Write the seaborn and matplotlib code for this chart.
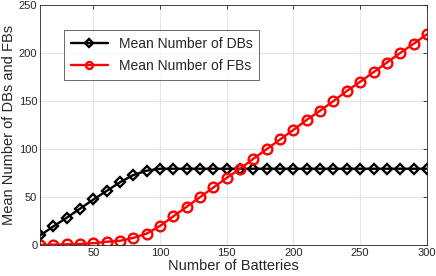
"""Mean number of DBs and FBs versus number of batteries."""

import numpy as np
import pandas as pd
import matplotlib
matplotlib.use("Agg")
import matplotlib.pyplot as plt
import seaborn as sns

# Data
batteries = list(range(10, 301, 10))
mean_dbs = [10, 19.5, 28.5, 38, 47.5, 56.5, 65.5, 73, 77.5, 79.5,
            79.5, 79.5, 79.5, 79.5, 79.5, 79.5, 79.5, 79.5, 79.5, 79.5,
            79.5, 79.5, 79.5, 79.5, 79.5, 79.5, 79.5, 79.5, 79.5, 79.5]
mean_fbs = [0.3, 0.5, 0.8, 1.2, 2, 3.5, 4.5, 7.5, 12, 20,
            30, 40, 50, 60, 70, 79.5, 90, 100, 110, 120,
            130.5, 140, 150, 160.5, 170, 180, 190, 200, 209.5, 219.5]

series_names = ["Mean Number of DBs", "Mean Number of FBs"]

df = pd.DataFrame({
    "batteries": batteries * 2,
    "value": mean_dbs + mean_fbs,
    "series": [series_names[0]] * len(batteries) + [series_names[1]] * len(batteries),
})

sns.set_theme(style="whitegrid")
plt.rcParams["font.family"] = ["Liberation Sans", "DejaVu Sans"]

fig = plt.figure(figsize=(4.36, 2.76), dpi=100)
ax = fig.add_axes([0.092, 0.112, 0.887, 0.87])

sns.lineplot(
    data=df, x="batteries", y="value", hue="series", style="series",
    palette={series_names[0]: "black", series_names[1]: "red"},
    markers={series_names[0]: "D", series_names[1]: "o"},
    dashes=False, linewidth=1.7, markersize=7, ax=ax,
)
# hollow markers in the line colour, MATLAB style
for line in ax.lines:
    line.set_markerfacecolor("none")
    line.set_markeredgecolor(line.get_color())
    line.set_markeredgewidth(1.7)
    if line.get_marker() == "D":
        line.set_markersize(5.5)

ax.set_xlim(10, 300)
ax.set_ylim(0, 250)
ax.set_xticks([50, 100, 150, 200, 250, 300])
ax.set_yticks([0, 50, 100, 150, 200, 250])
ax.set_xlabel("Number of Batteries", fontsize=10.5, color="#262626", labelpad=1)
ax.set_ylabel("Mean Number of DBs and FBs", fontsize=10.5, color="#262626", labelpad=2)
ax.tick_params(axis="both", labelsize=8, colors="#262626", direction="in",
               length=3, width=0.6, pad=2, top=True, right=True, labelcolor="#262626")
ax.grid(True, color="#e6e6e6", linewidth=0.8)
for spine in ax.spines.values():
    spine.set_color("#262626")
    spine.set_linewidth(0.6)

leg = ax.legend(loc="upper left", bbox_to_anchor=(0.045, 0.925), fontsize=10,
                frameon=True, fancybox=False, edgecolor="#262626",
                handlelength=2.6, borderpad=0.5, labelspacing=0.6)
leg.get_frame().set_linewidth(0.6)
for h in leg.legend_handles:
    h.set_markerfacecolor("none")
    h.set_markeredgecolor(h.get_color())
    h.set_markeredgewidth(1.7)
    h.set_markersize(4.5 if h.get_marker() == "D" else 5)

fig.savefig("out.png", dpi=100)
plt.close(fig)
